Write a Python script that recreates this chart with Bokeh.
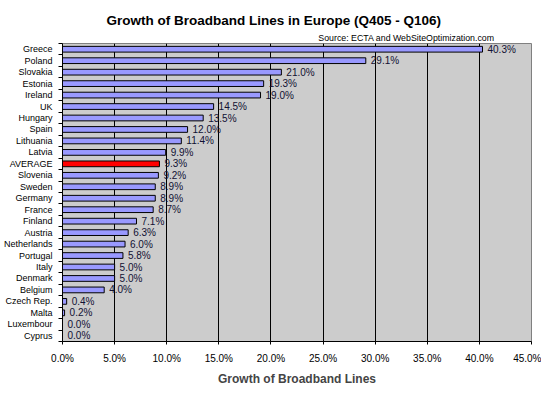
from bokeh.plotting import figure
from bokeh.models import (ColumnDataSource, Range1d, FixedTicker, PrintfTickFormatter,
                          Title, LabelSet)
from bokeh.core.properties import value
from bokeh.embed import file_html
from bokeh.resources import INLINE

countries = ["Greece", "Poland", "Slovakia", "Estonia", "Ireland", "UK", "Hungary",
             "Spain", "Lithuania", "Latvia", "AVERAGE", "Slovenia", "Sweden", "Germany",
             "France", "Finland", "Austria", "Netherlands", "Portugal", "Italy",
             "Denmark", "Belgium", "Czech Rep.", "Malta", "Luxembour", "Cyprus"]
growth = [40.3, 29.1, 21.0, 19.3, 19.0, 14.5, 13.5, 12.0, 11.4, 9.9, 9.3, 9.2, 8.9,
          8.9, 8.7, 7.1, 6.3, 6.0, 5.8, 5.0, 5.0, 4.0, 0.4, 0.2, 0.0, 0.0]
x_ticks = [0, 5, 10, 15, 20, 25, 30, 35, 40, 45]
title_text = "Growth of Broadband Lines in Europe (Q405 - Q106)"
source_text = "Source: ECTA and WebSiteOptimization.com"
x_label = "Growth of Broadband Lines"

n = len(countries)
ypos = [n - i - 0.5 for i in range(n)]
colors = ["#FF0000" if c == "AVERAGE" else "#9999FF" for c in countries]
labels = ["%.1f%%" % v for v in growth]

src = ColumnDataSource(dict(country=countries, growth=growth, y=ypos,
                            color=colors, label=labels))

FONT = "Liberation Sans"

p = figure(width=540, height=379, output_backend="svg", toolbar_location=None,
           x_range=Range1d(0, 45), y_range=Range1d(0, n),
           frame_width=469, frame_height=298,
           min_border_left=60, min_border_right=10, min_border_top=10,
           min_border_bottom=36)
p.background_fill_color = "#CCCCCC"
p.border_fill_color = "white"
p.outline_line_color = "#808080"
p.outline_line_width = 1

p.hbar(y="y", right="growth", left=0, height=0.5, fill_color="color",
       line_color="black", line_width=1, source=src)

p.add_layout(LabelSet(x="growth", y="y", text="label", source=src, x_offset=5,
                      text_baseline="middle", text_align="left",
                      text_font=value(FONT), text_font_size=value("10px"),
                      text_color="#111133"))

# x axis
p.xaxis.ticker = FixedTicker(ticks=x_ticks)
p.xaxis.formatter = PrintfTickFormatter(format="%.1f%%")
p.xaxis.major_label_text_font = FONT
p.xaxis.major_label_text_font_size = "10px"
p.xaxis.major_label_text_color = "black"
p.xaxis.major_label_standoff = 8
p.xaxis.major_tick_in = 0
p.xaxis.major_tick_out = 3
p.xaxis.minor_tick_line_color = None
p.xaxis.axis_line_color = "black"
p.xaxis.axis_label = x_label
p.xaxis.axis_label_text_font = FONT
p.xaxis.axis_label_text_font_size = "12px"
p.xaxis.axis_label_text_font_style = "bold"
p.xaxis.axis_label_standoff = 5

# y axis
p.yaxis.ticker = FixedTicker(ticks=ypos, minor_ticks=list(range(n + 1)))
p.yaxis.major_label_overrides = {y: c for y, c in zip(ypos, countries)}
p.yaxis.major_label_text_font = FONT
p.yaxis.major_label_text_font_size = "9px"
p.yaxis.major_label_text_color = "black"
p.yaxis.major_tick_line_color = None
p.yaxis.minor_tick_in = 0
p.yaxis.minor_tick_out = 4
p.yaxis.minor_tick_line_color = "black"
p.yaxis.major_label_standoff = 4
p.yaxis.axis_line_color = "black"

p.xgrid.ticker = FixedTicker(ticks=x_ticks[1:-1])
p.xgrid.grid_line_color = "black"
p.xgrid.grid_line_width = 1
p.ygrid.grid_line_color = None

# p.title is the outermost panel: use it as a small top spacer
p.title.text = " "
p.title.text_font_size = "4px"
p.title.standoff = 0

# added titles stack outward from the frame: source first, then main title
p.add_layout(Title(text=source_text, align="right", offset=37, text_font=FONT,
                   text_font_size="8.8px", text_font_style="normal",
                   text_color="black", standoff=1), "above")
p.add_layout(Title(text=title_text, align="left", offset=44, text_font=FONT,
                   text_font_size="13.5px", text_font_style="bold",
                   text_color="black", standoff=6), "above")

open("out.html", "w").write(file_html(p, INLINE))
